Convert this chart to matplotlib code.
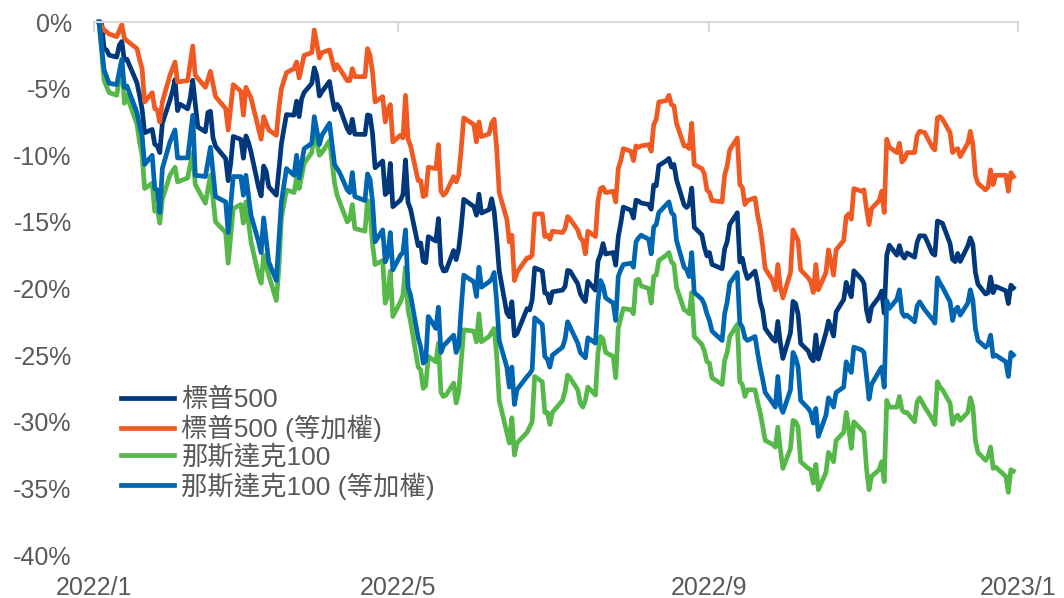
import numpy as np
import pandas as pd
import matplotlib
matplotlib.use('Agg')
from matplotlib import pyplot as plt
import matplotlib.dates as mdates
from matplotlib.ticker import FuncFormatter

# trading days 2022 (NYSE holidays removed)
holidays = ['2022-01-17', '2022-02-21', '2022-04-15', '2022-05-30', '2022-06-20',
            '2022-07-04', '2022-09-05', '2022-11-24', '2022-12-26']
trade_days = pd.bdate_range('2022-01-03', '2022-12-30').difference(pd.to_datetime(holidays))

# S&P 500, % change since first trading day
sp500 = [
    0, -0.06, -2.00, -2.10, -2.49, -2.63, -1.74, -1.46, -2.87, -2.79, -4.58, -5.50, -6.54, -8.31, -8.06, -9.18, -9.31, -9.80, -7.60, -5.86,
    -5.21, -4.32, -6.65, -6.17, -6.52, -5.73, -4.37, -6.10, -7.88, -8.23, -6.79, -6.70, -8.68, -9.33, -10.25, -11.91, -10.59, -8.59, -8.81,
    -10.22, -8.55, -9.03, -9.75, -12.41, -13.05, -10.81, -11.20, -12.35, -13.00, -11.14, -9.15, -8.02, -6.95, -6.99, -5.94, -7.10, -5.76, -5.28, -4.61, -3.44, -4.05, -5.55,
    -5.23, -4.46, -5.66, -6.58, -6.18, -6.43, -8.01, -8.32, -7.30, -8.42, -8.44, -6.97, -7.03, -8.40, -10.94, -10.43, -12.95, -12.77, -10.61, -13.86,
    -13.37, -12.95, -10.35, -13.55, -14.04, -16.79, -16.58, -17.96, -18.06, -16.11, -16.44, -14.75, -18.20, -18.68, -18.66, -17.15, -17.83, -17.05, -15.40, -13.31, -13.85,
    -14.50, -12.92, -14.34, -14.08, -13.26, -14.19, -16.24, -18.67, -21.83, -22.12, -20.99, -23.55, -23.39, -21.51, -21.61, -20.87, -18.45, -18.69, -20.33, -20.38, -21.08,
    -20.25, -20.12, -19.84, -18.64, -18.70, -19.64, -20.38, -20.74, -20.98, -19.46, -20.13, -17.93, -17.44, -16.63, -17.41, -17.30, -18.25, -16.11, -15.10, -13.89,
    -14.13, -14.71, -13.37, -13.44, -13.58, -13.69, -14.05, -12.23, -12.29, -10.77, -10.41, -10.24, -10.89, -10.69, -11.84, -13.73, -13.92, -13.67, -12.46, -15.40, -15.97, -16.90, -17.55,
    -17.30, -18.19, -18.52, -17.03, -16.48, -15.20, -14.31, -18.01, -17.73, -18.66, -19.25, -18.69, -19.61, -20.99, -21.65, -23.00, -23.80, -23.96, -22.47, -24.10, -25.25,
    -23.31, -20.97, -21.13, -21.93, -24.12, -24.69, -25.18, -25.42, -23.49, -25.30, -23.32, -22.44, -22.96, -23.57, -21.76, -20.83, -19.54, -20.14, -20.62, -18.67, -19.28,
    -19.61, -21.62, -22.45, -21.39, -20.63, -20.19, -21.85, -17.52, -16.75, -17.50, -16.78, -17.47, -17.72, -17.33, -17.65, -16.53, -16.04, -16.06, -17.36, -17.49, -14.94,
    -15.01, -15.11, -16.63, -17.83, -17.98, -17.37, -17.97, -16.80, -16.20, -16.70, -18.78, -19.68, -20.41, -20.33, -19.14, -20.31, -19.84, -20.17, -21.13, -19.75, -19.95,
]

# the other three series
key_dates = [
    '01-03', '01-05', '01-07', '01-10', '01-12', '01-13', '01-14', '01-18', '01-19', '01-20', '01-21', '01-24', '01-25', '01-26', '01-27', '01-28', '01-31',
    '02-02', '02-03', '02-07', '02-09', '02-10', '02-14', '02-16', '02-18', '02-22', '02-23', '02-25', '02-28',
    '03-01', '03-02', '03-04', '03-07', '03-08', '03-09', '03-11', '03-14', '03-15', '03-16', '03-18', '03-21', '03-22', '03-23', '03-25', '03-28', '03-29', '03-31',
    '04-01', '04-04', '04-06', '04-07', '04-08', '04-11', '04-12', '04-13', '04-14', '04-18', '04-19', '04-20', '04-21', '04-22', '04-25', '04-26', '04-27', '04-28', '04-29',
    '05-02', '05-03', '05-04', '05-05', '05-06', '05-09', '05-10', '05-11', '05-12', '05-13', '05-16', '05-17', '05-18', '05-19', '05-20', '05-23', '05-24', '05-25', '05-26', '05-27', '05-31',
    '06-01', '06-02', '06-03', '06-06', '06-07', '06-08', '06-09', '06-10', '06-13', '06-14', '06-15', '06-16', '06-17', '06-21', '06-22', '06-23', '06-24', '06-27', '06-28', '06-29', '06-30',
    '07-01', '07-05', '07-06', '07-07', '07-08', '07-11', '07-12', '07-13', '07-14', '07-15', '07-18', '07-19', '07-20', '07-21', '07-22', '07-25', '07-26', '07-27', '07-28', '07-29',
    '08-01', '08-02', '08-03', '08-04', '08-05', '08-08', '08-09', '08-10', '08-11', '08-12', '08-15', '08-16', '08-17', '08-18', '08-19', '08-22', '08-23', '08-24', '08-25', '08-26', '08-29', '08-30', '08-31',
    '09-01', '09-02', '09-06', '09-07', '09-08', '09-09', '09-12', '09-13', '09-14', '09-15', '09-16', '09-19', '09-20', '09-21', '09-22', '09-23', '09-26', '09-27', '09-28', '09-29', '09-30',
    '10-03', '10-04', '10-05', '10-06', '10-07', '10-10', '10-11', '10-12', '10-13', '10-14', '10-17', '10-18', '10-19', '10-20', '10-21', '10-24', '10-25', '10-26', '10-27', '10-28', '10-31',
    '11-01', '11-02', '11-03', '11-04', '11-07', '11-08', '11-09', '11-10', '11-11', '11-14', '11-15', '11-16', '11-17', '11-18', '11-21', '11-22', '11-23', '11-25', '11-28', '11-29', '11-30',
    '12-01', '12-02', '12-05', '12-06', '12-07', '12-08', '12-09', '12-12', '12-13', '12-14', '12-15', '12-16', '12-19', '12-20', '12-21', '12-22', '12-23', '12-27', '12-28', '12-29', '12-30',
]

sp500_ew = [
    0, -0.6, -0.9, -1.1, -0.2, -1.2, -1.4, -2.0, -2.8, -3.5, -6.0, -5.3, -6.5, -6.6, -7.5, -6.0, -4.0,
    -3.0, -4.5, -4.4, -1.8, -4.0, -4.9, -3.7, -5.6, -6.5, -8.1, -4.7, -5.2,
    -7.0, -4.9, -5.7, -8.0, -8.8, -7.1, -8.1, -8.5, -6.5, -5.0, -3.8, -3.5, -3.0, -4.2, -2.5, -2.3, -0.6, -2.7,
    -2.3, -2.1, -3.6, -3.2, -3.5, -4.4, -4.4, -3.5, -4.1, -4.1, -2.0, -2.5, -3.8, -6.0, -5.6, -7.5, -6.6, -6.2, -9.0,
    -8.5, -8.7, -5.5, -8.8, -9.3, -11.9, -11.9, -13.1, -13.0, -10.9, -11.0, -9.2, -12.7, -13.0, -12.8, -11.6, -12.0, -11.5, -9.5, -7.2, -7.7,
    -9.0, -7.5, -8.6, -8.4, -7.6, -7.3, -9.5, -12.8, -14.8, -16.5, -16.0, -19.4, -18.8, -17.7, -17.7, -17.5, -14.4, -14.4, -16.1, -16.0, -16.3,
    -15.7, -15.8, -15.5, -14.6, -14.8, -15.6, -16.2, -16.4, -17.4, -15.7, -16.1, -13.4, -12.5, -12.4, -12.8, -12.7, -13.5, -11.0, -10.4, -9.5,
    -9.7, -10.4, -9.3, -9.4, -9.3, -9.2, -9.7, -7.7, -7.3, -6.0, -5.9, -5.5, -6.2, -6.3, -7.6, -9.3, -9.3, -9.5, -7.6, -10.7, -11.0, -11.4, -12.6,
    -12.8, -13.4, -13.5, -11.5, -10.8, -9.6, -8.7, -12.2, -12.4, -13.7, -13.4, -13.2, -14.5, -15.4, -16.8, -18.5, -19.4, -20.1, -18.2, -19.9, -20.7,
    -18.8, -15.6, -16.0, -16.4, -18.6, -19.2, -19.5, -20.3, -18.2, -20.1, -18.8, -17.1, -18.0, -19.0, -17.1, -16.4, -14.6, -14.4, -14.8, -12.5, -12.7,
    -12.6, -14.0, -15.2, -14.0, -13.4, -12.7, -14.3, -8.8, -9.4, -9.8, -9.1, -10.5, -10.3, -9.8, -9.8, -8.5, -8.2, -8.3, -9.4, -9.6, -7.2,
    -7.1, -7.3, -8.3, -9.8, -9.6, -9.5, -10.1, -9.1, -8.2, -9.2, -11.5, -12.1, -12.6, -12.4, -11.1, -12.2, -11.5, -11.5, -12.7, -11.3, -11.6,
]

nasdaq100 = [
    0, -4.4, -5.3, -5.5, -3.0, -6.1, -5.5, -7.7, -9.0, -10.0, -12.5, -12.1, -14.2, -14.0, -15.1, -13.3, -11.5,
    -10.9, -12.0, -11.7, -9.8, -12.2, -13.6, -11.5, -15.0, -15.8, -18.1, -14.0, -13.7,
    -15.1, -13.5, -16.5, -19.0, -19.6, -17.5, -19.0, -20.9, -18.5, -14.7, -12.6, -12.8, -11.7, -12.5, -10.6, -9.8, -8.1, -10.0,
    -9.8, -8.9, -12.1, -13.0, -13.5, -15.0, -14.8, -13.7, -15.5, -15.7, -13.4, -14.2, -16.7, -18.2, -17.9, -21.1, -20.5, -18.7, -22.1,
    -21.0, -20.5, -18.4, -21.6, -22.5, -25.9, -26.1, -27.5, -27.3, -25.1, -25.5, -24.1, -27.8, -28.1, -28.0, -27.1, -28.6, -27.8, -25.5, -23.1, -23.2,
    -24.0, -21.9, -24.0, -23.6, -23.3, -23.0, -25.0, -28.4, -30.8, -31.6, -29.7, -32.5, -31.6, -30.8, -30.4, -30.0, -26.6, -27.0, -29.3, -29.3, -30.2,
    -29.3, -28.4, -27.7, -26.5, -26.7, -27.6, -28.6, -28.9, -28.4, -27.4, -28.0, -24.8, -23.6, -23.8, -24.8, -25.1, -26.7, -23.0, -22.2, -21.5,
    -21.6, -21.9, -19.4, -19.3, -19.8, -20.0, -21.1, -19.1, -19.0, -17.9, -17.5, -17.3, -18.0, -18.2, -19.9, -21.6, -21.7, -21.9, -20.3, -23.6, -24.2, -24.7, -25.5,
    -25.6, -26.7, -27.2, -25.4, -24.8, -23.6, -22.7, -27.0, -27.2, -28.1, -27.6, -27.6, -28.5, -29.3, -30.3, -31.4, -31.7, -31.9, -30.4, -32.1, -33.5,
    -32.0, -29.9, -30.0, -30.4, -33.0, -33.5, -33.6, -34.6, -33.2, -35.1, -33.8, -32.3, -32.6, -33.0, -31.4, -30.8, -29.3, -30.5, -32.0, -30.0, -30.6,
    -30.8, -33.5, -35.1, -34.1, -33.6, -33.0, -34.5, -28.4, -28.9, -28.9, -28.1, -29.1, -29.3, -29.3, -30.0, -28.5, -28.2, -28.9, -29.8, -30.2, -27.0,
    -27.4, -27.6, -28.6, -30.2, -29.7, -29.5, -29.9, -29.3, -28.2, -28.9, -31.4, -32.3, -32.9, -32.6, -31.9, -33.5, -33.4, -34.1, -35.3, -33.6, -33.7,
]

nasdaq100_ew = [
    0, -3.6, -4.6, -4.7, -2.8, -4.9, -4.8, -6.8, -7.8, -8.5, -10.7, -10.0, -12.5, -12.6, -14.3, -11.0, -9.0,
    -8.1, -10.2, -10.2, -7.0, -11.5, -11.6, -9.4, -13.1, -13.5, -15.8, -11.6, -11.6,
    -13.0, -11.5, -14.5, -16.5, -17.3, -14.7, -18.0, -19.4, -16.5, -13.5, -11.0, -11.5, -10.0, -11.7, -9.5, -9.1, -7.1, -9.2,
    -8.5, -7.6, -10.7, -11.0, -11.3, -12.6, -12.8, -11.3, -13.1, -13.4, -11.4, -11.8, -13.5, -16.5, -15.6, -18.0, -17.5, -15.8, -18.6,
    -17.5, -17.3, -15.6, -19.9, -20.5, -23.7, -24.4, -25.6, -25.4, -22.1, -23.0, -21.4, -24.8, -24.3, -24.1, -23.5, -24.8, -24.3, -21.5, -19.0, -19.5,
    -20.6, -18.4, -19.9, -19.5, -19.3, -18.8, -21.0, -23.9, -25.9, -27.4, -25.9, -28.7, -27.6, -26.6, -26.4, -26.1, -22.2, -22.7, -25.1, -25.3, -25.9,
    -25.0, -24.4, -23.8, -22.5, -22.9, -24.1, -24.8, -25.0, -25.2, -23.7, -24.1, -20.9, -19.4, -19.8, -20.7, -21.1, -22.4, -19.1, -18.6, -18.2,
    -18.1, -18.4, -16.5, -16.2, -16.0, -16.3, -17.4, -15.4, -15.2, -14.3, -13.7, -13.5, -14.3, -14.5, -16.4, -18.4, -18.6, -19.1, -17.3, -20.3, -20.8, -21.2, -21.9,
    -22.4, -23.2, -23.9, -21.9, -21.0, -19.6, -18.8, -22.6, -22.9, -23.7, -23.9, -23.6, -24.8, -25.9, -26.8, -27.8, -28.6, -28.9, -26.6, -28.8, -29.3,
    -27.6, -24.8, -25.2, -25.9, -28.4, -29.0, -29.3, -30.1, -29.0, -31.1, -29.5, -28.2, -28.5, -28.9, -27.8, -27.4, -25.5, -26.0, -26.3, -24.4, -24.6,
    -24.8, -26.5, -28.3, -27.2, -26.2, -25.9, -27.4, -20.9, -21.5, -20.8, -20.1, -21.8, -22.1, -22.0, -22.5, -21.3, -21.0, -21.6, -22.3, -22.6, -19.2,
    -19.6, -19.9, -21.0, -22.4, -21.6, -21.4, -22.0, -21.1, -20.1, -20.9, -23.0, -23.9, -24.4, -24.2, -23.5, -25.1, -25.0, -25.5, -26.6, -24.8, -25.0,
]

labels = ['標普500', '標普500 (等加權)', '那斯達克100', '那斯達克100 (等加權)']
colors = ['#00387B', '#F05A22', '#55B848', '#0066B2']
y_ticks = list(range(-40, 1, 5))

assert len(sp500) == len(trade_days)
assert len(key_dates) == len(sp500_ew) == len(nasdaq100) == len(nasdaq100_ew)

key_days = pd.to_datetime(['2022-' + d for d in key_dates])
series = [(trade_days, sp500), (key_days, sp500_ew), (key_days, nasdaq100), (key_days, nasdaq100_ew)]

plt.rcParams['font.family'] = ['Liberation Sans', 'Noto Sans CJK TC', 'DejaVu Sans']

fig = plt.figure(figsize=(10.64, 5.98), dpi=100)
ax = fig.add_axes([0.0883, 0.0719, 0.8689, 0.8913])

for (x, y), lab, c in zip(series, labels, colors):
    ln, = ax.plot(x, y, color=c, lw=3.4, label=lab, solid_joinstyle='round')
    ln.set_clip_on(False)

ax.set_ylim(-40, 0)
ax.set_xlim(pd.Timestamp('2022-01-01'), pd.Timestamp('2023-01-01'))
ax.set_yticks(y_ticks)
ax.set_yticklabels([f'{v}%' for v in y_ticks])

ax.xaxis.set_major_locator(mdates.MonthLocator(bymonth=[1, 5, 9]))
ax.xaxis.set_major_formatter(FuncFormatter(
    lambda v, p: f'{mdates.num2date(v).year}/{mdates.num2date(v).month}'))

for s in ['left', 'right', 'bottom']:
    ax.spines[s].set_visible(False)
ax.spines['top'].set_color('#D9D9D9')
ax.spines['top'].set_linewidth(1.5)

ax.tick_params(axis='x', top=True, bottom=False, labeltop=False, labelbottom=True,
               direction='in', length=7, width=1.5, color='#D9D9D9',
               labelsize=18, labelcolor='#595959', pad=15)
ax.tick_params(axis='y', length=0, labelsize=18, labelcolor='#595959', pad=16)

ax.legend(loc='upper left', bbox_to_anchor=(0.1135, 0.351), bbox_transform=fig.transFigure,
          frameon=False, fontsize=19, handlelength=2.0, handletextpad=0.3,
          labelspacing=0.1, borderpad=0, borderaxespad=0, labelcolor='#595959')

fig.savefig('out.png', dpi=100)
